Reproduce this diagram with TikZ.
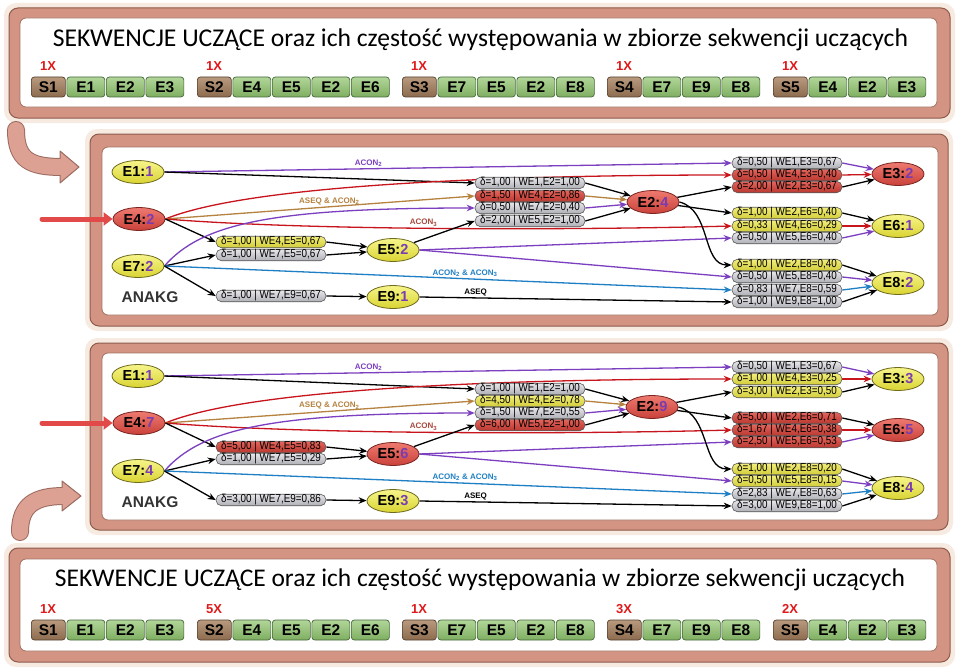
\documentclass[tikz,border=0pt]{standalone}
\usepackage{fontspec}
\setmainfont{Liberation Sans}
\newfontfamily\calib{Carlito}
\newfontfamily\narrowf[FakeStretch=0.86]{Liberation Sans}
\usepackage{graphicx}
\usetikzlibrary{shapes.geometric,arrows.meta}
\pgfdeclarelayer{background}
\pgfdeclarelayer{edgelayer}
\pgfsetlayers{background,edgelayer,main}
\definecolor{frameF}{HTML}{D39483}
\definecolor{frameD}{HTML}{8E5B4C}
\definecolor{glowC}{HTML}{F7EAE1}
\definecolor{innerD}{HTML}{A4705F}
\definecolor{yT}{HTML}{F7F58A}
\definecolor{yB}{HTML}{D9D432}
\definecolor{yD}{HTML}{6E6A1E}
\definecolor{rT}{HTML}{EE7A70}
\definecolor{rB}{HTML}{C9413A}
\definecolor{rD}{HTML}{7A2520}
\definecolor{gT}{HTML}{E6E6EA}
\definecolor{gB}{HTML}{AEAEB6}
\definecolor{pyT}{HTML}{F2EE7A}
\definecolor{pyB}{HTML}{D2CC3A}
\definecolor{prT}{HTML}{E4655C}
\definecolor{prB}{HTML}{B8372F}
\definecolor{cntc}{HTML}{7A3CB0}
\definecolor{cPur}{HTML}{7B3FBF}
\definecolor{cRed}{HTML}{C8141C}
\definecolor{cRedL}{HTML}{A8483C}
\definecolor{cBrn}{HTML}{B5823F}
\definecolor{cBlu}{HTML}{1F7FC4}
\definecolor{sT}{HTML}{B99A7E}
\definecolor{sB}{HTML}{8C6B4E}
\definecolor{sD}{HTML}{55402F}
\definecolor{eT}{HTML}{B2D69A}
\definecolor{eB}{HTML}{7EAE60}
\definecolor{eD}{HTML}{45673A}
\definecolor{xRed}{HTML}{E01A1A}
\definecolor{pinkF}{HTML}{DDA193}
\definecolor{pinkD}{HTML}{9B6A5F}
\definecolor{arRed}{HTML}{E24A4A}
\newcommand\kcnt[1]{\textcolor{cntc}{#1}}
\newcommand\pval[2]{δ=#1 | W#2}
\tikzset{
  glow/.style={fill=glowC, rounded corners=12pt},
  frame/.style={fill=frameF, draw=frameD, line width=1pt, rounded corners=9pt},
  innerp/.style={fill=white, draw=innerD, line width=.8pt, rounded corners=6pt},
  ell/.style={ellipse, minimum width=52pt, minimum height=23pt, inner sep=0pt, line width=.8pt, font=\bfseries\fontsize{14.5}{15}\selectfont},
  ey/.style={ell, draw=yD, top color=yT, bottom color=yB},
  er/.style={ell, draw=rD, top color=rT, bottom color=rB},
  pill/.style={rectangle, rounded corners=5.5pt, minimum width=110pt, minimum height=11.5pt, inner sep=0pt, line width=.6pt, draw=black!65, font=\narrowf\fontsize{11.5}{11.5}\selectfont},
  pg/.style={pill, top color=gT, bottom color=gB},
  py/.style={pill, top color=pyT, bottom color=pyB},
  pr/.style={pill, top color=prT, bottom color=prB},
  ar/.style={line width=1.3pt, -{Stealth[length=8pt,width=6.5pt]}},
  eBlk/.style={ar, draw=black},
  ePur/.style={ar, draw=cPur},
  eRed/.style={ar, draw=cRed},
  eBrn/.style={ar, draw=cBrn},
  eBlu/.style={ar, draw=cBlu},
  lab/.style={font=\bfseries\fontsize{8}{8}\selectfont, inner sep=1.5pt},
  sbox/.style={rectangle, rounded corners=3pt, minimum width=34pt, minimum height=20pt, inner sep=0pt, draw=sD, line width=.7pt, top color=sT, bottom color=sB, font=\bfseries\fontsize{15.5}{15.5}\selectfont},
  ebox/.style={rectangle, rounded corners=3pt, minimum width=38pt, minimum height=20pt, inner sep=0pt, draw=eD, line width=.7pt, top color=eT, bottom color=eB, font=\bfseries\fontsize{15.5}{15.5}\selectfont},
  cntl/.style={text=xRed, font=\bfseries\fontsize{13}{13}\selectfont, inner sep=0pt},
  anakg/.style={text=black!80, font=\bfseries\fontsize{15.5}{16}\selectfont},
  titl/.style={anchor=base, inner sep=0pt, text=black},
}
\newcommand\seqrow[6]{%
  \node[sbox,anchor=west] (#1s) at (#2,#3) {#4};
  \node[cntl] (#1c) at ({#2+17},{#3-21}) {#5};
  \foreach \ee [count=\ii from 0] in {#6}{%
    \node[ebox,anchor=west] (#1e\ii) at ({#2+35.5+\ii*39.5},#3) {\ee};}%
}
\newcommand\anedges[1]{%
  \draw[ePur] (#1n1.east) -- node[lab,text=cPur,pos=.36,above]{ACON\textsubscript{2}} (#1p13.west);
  \draw[eBlk] (#1n1.east) -- (#1p12.west);
  \draw[eRed] (#1n4.east) .. controls +(85,-35) and +(-220,0) .. (#1p43.west);
  \draw[eBrn] (#1n4.east) -- node[lab,text=cBrn,pos=.53,above]{ASEQ \& ACON\textsubscript{2}} (#1p42.west);
  \draw[eRed] (#1n4.east) .. controls +(150,12) and +(-150,4) .. node[lab,text=cRedL,pos=.46,above]{ACON\textsubscript{3}} (#1p46.west);
  \draw[eBlk] (#1n4.east) -- (#1p45.west);
  \draw[ePur] (#1n7.east) .. controls +(37,-42) and +(-205,0) .. (#1p72.west);
  \draw[eBlk] (#1n7.east) -- (#1p75.west);
  \draw[eBlu] (#1n7.east) -- node[lab,text=cBlu,pos=.53,above]{ACON\textsubscript{2} \& ACON\textsubscript{3}} (#1p78.west);
  \draw[eBlk] (#1n7.east) -- (#1p79.west);
  \draw[eBlk] (#1p45.east) -- (#1n5);
  \draw[eBlk] (#1p75.east) -- (#1n5);
  \draw[eBlk] (#1p79.east) -- (#1n9);
  \draw[eBlk] (#1n5) -- (#1p52.west);
  \draw[ePur] (#1n5.east) -- (#1p56.west);
  \draw[ePur] (#1n5.east) -- (#1p58.west);
  \draw[eBlk] (#1n9.east) -- node[lab,text=black,pos=.18,above]{ASEQ} (#1p98.west);
  \draw[eBlk] (#1p12.east) -- (#1n2);
  \draw[eBrn] (#1p42.east) -- (#1n2);
  \draw[ePur] (#1p72.east) -- (#1n2);
  \draw[eBlk] (#1p52.east) -- (#1n2);
  \draw[eBlk] (#1n2) -- (#1p23.west);
  \draw[eBlk] (#1n2) -- (#1p26.west);
  \draw[eBlk] (#1n2.east) .. controls +(32,8) and +(-30,0) .. (#1p28.west);
  \draw[ePur] (#1p13.east) -- (#1n3);
  \draw[eRed] (#1p43.east) -- (#1n3);
  \draw[eBlk] (#1p23.east) -- (#1n3);
  \draw[eBlk] (#1p26.east) -- (#1n6);
  \draw[eRed] (#1p46.east) -- (#1n6);
  \draw[ePur] (#1p56.east) -- (#1n6);
  \draw[eBlk] (#1p28.east) -- (#1n8);
  \draw[ePur] (#1p58.east) -- (#1n8);
  \draw[eBlu] (#1p78.east) -- (#1n8);
  \draw[eBlk] (#1p98.east) -- (#1n8);
}
\begin{document}
\begin{tikzpicture}[x=1pt,y=-1pt]
\useasboundingbox (0,0) rectangle (959,669);
\begin{pgfonlayer}{background}
  % panels
  \fill[glow] (4,3) rectangle (955,123);
  \draw[frame] (9,8) rectangle (950,118);
  \draw[innerp] (20,18) rectangle (937,107);
  \fill[glow] (85,129) rectangle (953,331);
  \draw[frame] (90,134) rectangle (948,326);
  \draw[innerp] (102,147) rectangle (938,315);
  \fill[glow] (85,338) rectangle (953,535);
  \draw[frame] (90,343) rectangle (948,530);
  \draw[innerp] (102,353) rectangle (938,520);
  \fill[glow] (4,543) rectangle (955,667);
  \draw[frame] (9,548) rectangle (950,662);
  \draw[innerp] (20,559) rectangle (937,651);
  % big curved arrows
  \draw[line width=18pt, draw=pinkD, line cap=round] (16,130) .. controls (16,160) and (30,167) .. (62,167);
  \filldraw[fill=pinkF, draw=pinkD, line width=1pt, line join=round] (60,151) -- (79,167) -- (60,183) -- cycle;
  \draw[line width=16pt, draw=pinkF, line cap=round] (16,130) .. controls (16,160) and (30,167) .. (62,167);
  \draw[line width=18pt, draw=pinkD, line cap=round] (20,532) .. controls (20,505) and (35,496) .. (64,496);
  \filldraw[fill=pinkF, draw=pinkD, line width=1pt, line join=round] (62,481) -- (81,496) -- (62,511) -- cycle;
  \draw[line width=16pt, draw=pinkF, line cap=round] (20,532) .. controls (20,505) and (35,496) .. (64,496);
\end{pgfonlayer}
% titles
\node[titl] (t1) at (480.5,46.5) {\resizebox{855pt}{!}{\calib\fontsize{20}{20}\selectfont SEKWENCJE UCZĄCE oraz ich częstość występowania w zbiorze sekwencji uczących}};
\node[titl] (t2) at (480,586) {\resizebox{850pt}{!}{\calib\fontsize{20}{20}\selectfont SEKWENCJE UCZĄCE oraz ich częstość występowania w zbiorze sekwencji uczących}};
% sequence rows
\seqrow{ua}{31}{87}{S1}{1X}{E1,E2,E3}
\seqrow{ub}{197}{87}{S2}{1X}{E4,E5,E2,E6}
\seqrow{uc}{402}{87}{S3}{1X}{E7,E5,E2,E8}
\seqrow{ud}{607}{87}{S4}{1X}{E7,E9,E8}
\seqrow{ue}{773}{87}{S5}{1X}{E4,E2,E3}
\seqrow{va}{31}{630}{S1}{1X}{E1,E2,E3}
\seqrow{vb}{197}{630}{S2}{5X}{E4,E5,E2,E6}
\seqrow{vc}{402}{630}{S3}{1X}{E7,E5,E2,E8}
\seqrow{vd}{607}{630}{S4}{3X}{E7,E9,E8}
\seqrow{ve}{773}{630}{S5}{2X}{E4,E2,E3}
% panel 1
\node[anakg] (alab) at (150,297) {ANAKG};
\node[ey] (an1) at (138,172) {E1:\kcnt{1}};
\node[er] (an4) at (139,219) {E4:\kcnt{2}};
\node[ey] (an7) at (138,266) {E7:\kcnt{2}};
\node[ey] (an5) at (393,250) {E5:\kcnt{2}};
\node[ey] (an9) at (393,297) {E9:\kcnt{1}};
\node[er] (an2) at (653,202) {E2:\kcnt{4}};
\node[er] (an3) at (898,174) {E3:\kcnt{2}};
\node[ey] (an6) at (898,226) {E6:\kcnt{1}};
\node[ey] (an8) at (898,283) {E8:\kcnt{2}};
\node[pg] (ap12) at (530,183) {\pval{1,00}{E1,E2=1,00}};
\node[pr] (ap42) at (530,196) {\pval{1,50}{E4,E2=0,86}};
\node[pg] (ap72) at (530,208) {\pval{0,50}{E7,E2=0,40}};
\node[pg] (ap52) at (530,221) {\pval{2,00}{E5,E2=1,00}};
\node[py] (ap45) at (271,242) {\pval{1,00}{E4,E5=0,67}};
\node[pg] (ap75) at (271,255) {\pval{1,00}{E7,E5=0,67}};
\node[pg] (ap79) at (271,296) {\pval{1,00}{E7,E9=0,67}};
\node[pg] (ap13) at (787,163) {\pval{0,50}{E1,E3=0,67}};
\node[pr] (ap43) at (787,175) {\pval{0,50}{E4,E3=0,40}};
\node[pr] (ap23) at (787,187) {\pval{2,00}{E2,E3=0,67}};
\node[py] (ap26) at (787,213) {\pval{1,00}{E2,E6=0,40}};
\node[py] (ap46) at (787,226) {\pval{0,33}{E4,E6=0,29}};
\node[pg] (ap56) at (787,238) {\pval{0,50}{E5,E6=0,40}};
\node[py] (ap28) at (787,265) {\pval{1,00}{E2,E8=0,40}};
\node[pg] (ap58) at (787,277) {\pval{0,50}{E5,E8=0,40}};
\node[pg] (ap78) at (787,290) {\pval{0,83}{E7,E8=0,59}};
\node[pg] (ap98) at (787,302) {\pval{1,00}{E9,E8=1,00}};
% panel 2
\node[anakg] (blab) at (150,502) {ANAKG};
\node[ey] (bn1) at (138,376) {E1:\kcnt{1}};
\node[er] (bn4) at (139,423) {E4:\kcnt{7}};
\node[ey] (bn7) at (138,471) {E7:\kcnt{4}};
\node[er] (bn5) at (393,454) {E5:\kcnt{6}};
\node[ey] (bn9) at (393,501) {E9:\kcnt{3}};
\node[er] (bn2) at (652,407) {E2:\kcnt{9}};
\node[ey] (bn3) at (898,379) {E3:\kcnt{3}};
\node[er] (bn6) at (898,430) {E6:\kcnt{5}};
\node[ey] (bn8) at (898,488) {E8:\kcnt{4}};
\node[pg] (bp12) at (530,389) {\pval{1,00}{E1,E2=1,00}};
\node[py] (bp42) at (530,401) {\pval{4,50}{E4,E2=0,78}};
\node[pg] (bp72) at (530,413) {\pval{1,50}{E7,E2=0,55}};
\node[pr] (bp52) at (530,425) {\pval{6,00}{E5,E2=1,00}};
\node[pr] (bp45) at (271,447) {\pval{5,00}{E4,E5=0,83}};
\node[pg] (bp75) at (271,459) {\pval{1,00}{E7,E5=0,29}};
\node[pg] (bp79) at (271,500) {\pval{3,00}{E7,E9=0,86}};
\node[pg] (bp13) at (787,367) {\pval{0,50}{E1,E3=0,67}};
\node[py] (bp43) at (787,379) {\pval{1,00}{E4,E3=0,25}};
\node[py] (bp23) at (787,392) {\pval{3,00}{E2,E3=0,50}};
\node[pr] (bp26) at (787,418) {\pval{5,00}{E2,E6=0,71}};
\node[pr] (bp46) at (787,430) {\pval{1,67}{E4,E6=0,38}};
\node[pr] (bp56) at (787,442) {\pval{2,50}{E5,E6=0,53}};
\node[py] (bp28) at (787,469) {\pval{1,00}{E2,E8=0,20}};
\node[py] (bp58) at (787,481) {\pval{0,50}{E5,E8=0,15}};
\node[pg] (bp78) at (787,494) {\pval{2,83}{E7,E8=0,63}};
\node[pg] (bp98) at (787,506) {\pval{3,00}{E9,E8=1,00}};
% input arrows
\coordinate (ina) at (42,219);
\coordinate (inb) at (42,423);
\begin{pgfonlayer}{edgelayer}
  \anedges{a}
  \anedges{b}
  \draw[line width=5pt, draw=arRed, line cap=round, -{Triangle[length=9pt,width=13pt]}] (ina) -- (an4.west);
  \draw[line width=5pt, draw=arRed, line cap=round, -{Triangle[length=9pt,width=13pt]}] (inb) -- (bn4.west);
\end{pgfonlayer}
\end{tikzpicture}
\end{document}
